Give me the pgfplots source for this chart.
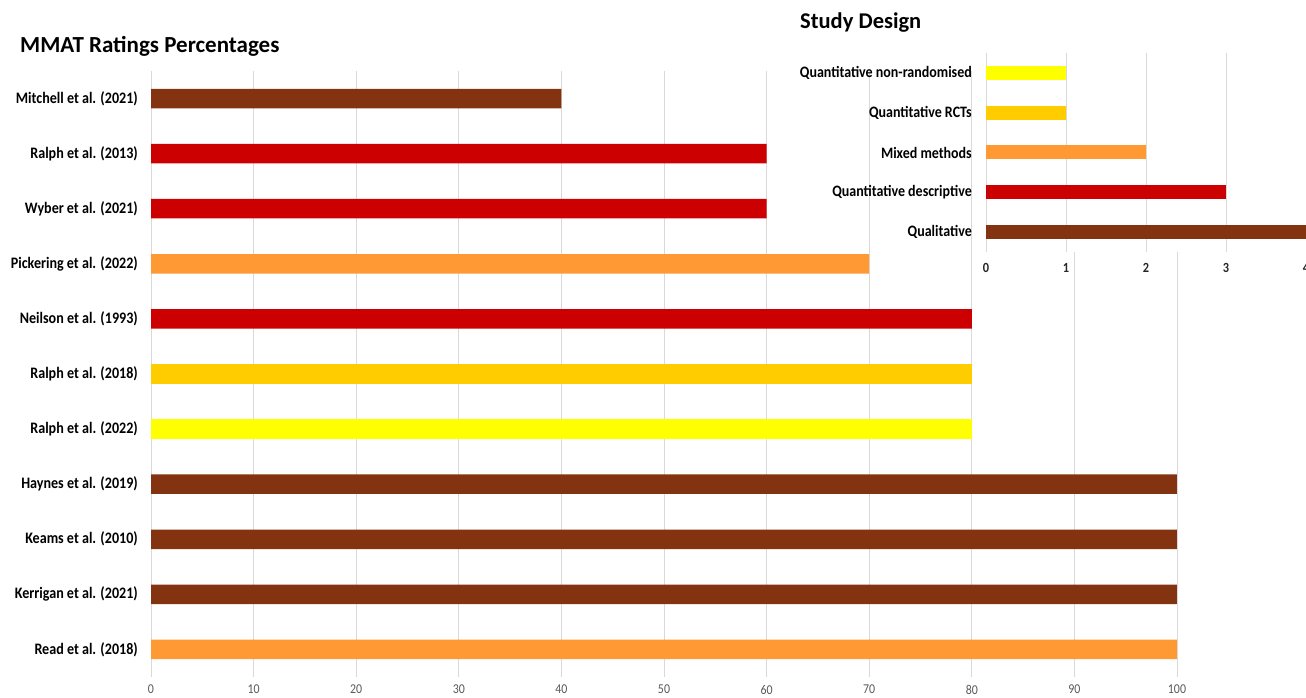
\documentclass[border=0pt]{standalone}
\usepackage{pgfplots}
\pgfplotsset{compat=1.18}
\usepackage{fontspec}
\setmainfont{Carlito}
\newfontfamily\lab[FakeStretch=0.88]{Carlito}
\definecolor{cbrown}{RGB}{132,51,17}
\definecolor{cred}{RGB}{204,0,0}
\definecolor{corange}{RGB}{255,153,51}
\definecolor{cgold}{RGB}{255,204,0}
\definecolor{cyellow}{RGB}{255,255,0}
\definecolor{cgrid}{RGB}{217,217,217}
\definecolor{ctick}{RGB}{89,89,89}
\begin{document}
\begin{tikzpicture}
\useasboundingbox (0pt,0pt) rectangle (1306pt,698pt);
% main chart
\begin{axis}[
  at={(151pt,21pt)}, anchor=south west,
  width=1026pt, height=606pt, scale only axis,
  xmin=0, xmax=100, ymin=-0.5, ymax=10.5,
  xbar, bar shift=0pt, bar width=19.5pt,
  axis line style={draw=none},
  major tick length=0pt,
  xmajorgrids, major grid style={cgrid, line width=0.8pt},
  xtick={0,10,...,100},
  ytick={0,...,10},
  yticklabels={Read et al. (2018),Kerrigan et al. (2021),Keams et al. (2010),Haynes et al. (2019),Ralph et al. (2022),Ralph et al. (2018),Neilson et al. (1993),Pickering et al. (2022),Wyber et al. (2021),Ralph et al. (2013),Mitchell et al. (2021)},
  y tick label style={font=\lab\fontsize{16}{18}\selectfont\bfseries, anchor=east, inner sep=0pt, xshift=-13pt},
  x tick label style={font=\lab\fontsize{13.5}{15}\selectfont, text=ctick, anchor=north, inner sep=0pt, yshift=-8pt},
  /pgf/number format/assume math mode=true,
]
\addplot[draw=none, fill=cbrown] coordinates {(100,1) (100,2) (100,3) (40,10)};
\addplot[draw=none, fill=cred] coordinates {(80,6) (60,8) (60,9)};
\addplot[draw=none, fill=corange] coordinates {(100,0) (70,7)};
\addplot[draw=none, fill=cgold] coordinates {(80,5)};
\addplot[draw=none, fill=cyellow] coordinates {(80,4)};
\end{axis}
\fill[white] (978pt,446pt) rectangle (1320pt,700pt);
% inset chart
\begin{axis}[
  at={(986pt,446pt)}, anchor=south west,
  width=320pt, height=199pt, scale only axis,
  xmin=0, xmax=4, ymin=-0.5, ymax=4.5,
  xbar, bar shift=0pt, bar width=14pt,
  axis line style={draw=none},
  major tick length=0pt,
  xmajorgrids, major grid style={cgrid, line width=0.8pt},
  xtick={0,1,2,3,4},
  ytick={0,...,4},
  yticklabels={Qualitative,Quantitative descriptive,Mixed methods,Quantitative RCTs,Quantitative non-randomised},
  y tick label style={font=\lab\fontsize{15.9}{18}\selectfont\bfseries, anchor=east, inner sep=0pt, xshift=-14pt},
  x tick label style={font=\lab\fontsize{14}{16}\selectfont\bfseries, text=black!85, anchor=north, inner sep=0pt, yshift=-11pt},
  /pgf/number format/assume math mode=true,
  clip=false,
]
\addplot[draw=none, fill=cbrown] coordinates {(4,0)};
\addplot[draw=none, fill=cred] coordinates {(3,1)};
\addplot[draw=none, fill=corange] coordinates {(2,2)};
\addplot[draw=none, fill=cgold] coordinates {(1,3)};
\addplot[draw=none, fill=cyellow] coordinates {(1,4)};
\end{axis}
\node[anchor=west, inner sep=0pt, font=\fontsize{23}{26}\selectfont\bfseries] at (20pt,652pt) {MMAT Ratings Percentages};
\node[anchor=west, inner sep=0pt, font=\fontsize{22.5}{26}\selectfont\bfseries] at (800pt,675pt) {Study Design};
\end{tikzpicture}
\end{document}
